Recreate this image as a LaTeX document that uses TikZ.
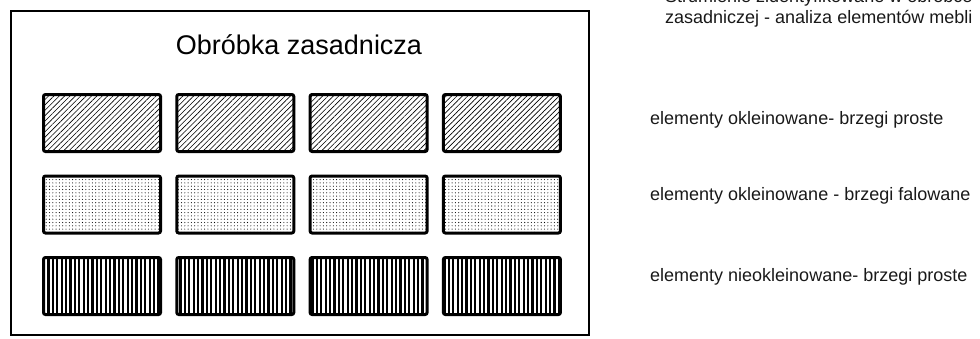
\documentclass[tikz,border=0pt]{standalone}
\usepackage{fontspec}
\setmainfont{Liberation Sans}
\usepackage{tikz}
\usetikzlibrary{positioning,patterns.meta}
\tikzset{
  base/.style={draw,line width=3pt,rounded corners=2pt,outer sep=0pt,minimum width=117pt,minimum height=57pt,inner sep=0pt},
  hatchbox/.style={base,pattern={Lines[angle=45,distance=3.8pt,line width=0.65pt]}},
  dotbox/.style={base,pattern={Dots[distance=3.3pt,radius=0.55pt]}},
  stripebox/.style={base,pattern={Lines[angle=90,distance=4.4pt,line width=2.2pt]}},
  frame/.style={draw,line width=2pt,outer sep=0pt,minimum width=578pt,minimum height=324pt,inner sep=0pt},
  title/.style={font=\fontsize{27}{31}\selectfont,inner sep=0pt},
  lbl/.style={font=\fontsize{18}{20.5}\selectfont,inner sep=0pt,text=black!90}}
\begin{document}
\begin{tikzpicture}[x=1pt,y=-1pt,node distance=24.5pt and 16.3pt]
\path[use as bounding box,clip] (0,0) rectangle (980,338);
\node[frame,anchor=north west] (frame) at (11,11) {};
\node[title,anchor=base] (title) at (299,54) {Obróbka zasadnicza};
% row 1: hatched
\node[hatchbox,anchor=north west] (h1) at (43.5,94.5) {};
\node[hatchbox,right=of h1] (h2) {};
\node[hatchbox,right=of h2] (h3) {};
\node[hatchbox,right=of h3] (h4) {};
% row 2: dotted
\node[dotbox,below=of h1] (d1) {};
\node[dotbox,right=of d1] (d2) {};
\node[dotbox,right=of d2] (d3) {};
\node[dotbox,right=of d3] (d4) {};
% row 3: striped
\node[stripebox,below=of d1] (s1) {};
\node[stripebox,right=of s1] (s2) {};
\node[stripebox,right=of s2] (s3) {};
\node[stripebox,right=of s3] (s4) {};
% legend (first line cut by the top edge, as in the source)
\node[lbl,anchor=base west,align=left] (head) at (665,23) {Strumienie zidentyfikowane w obróbce\\zasadniczej - analiza elementów mebli};
\node[lbl,anchor=base west] (l1) at (650,124) {elementy okleinowane- brzegi proste};
\node[lbl,anchor=base west] (l2) at (650,200) {elementy okleinowane - brzegi falowane};
\node[lbl,anchor=base west] (l3) at (650,281) {elementy nieokleinowane- brzegi proste};
\end{tikzpicture}
\end{document}
